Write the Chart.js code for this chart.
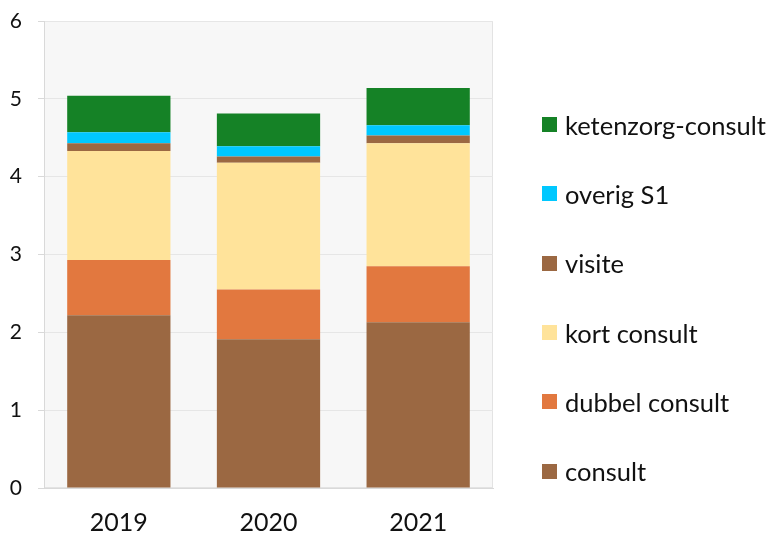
<!DOCTYPE html>
<html>
<head>
<meta charset="utf-8">
<script src="https://cdn.jsdelivr.net/npm/chart.js@4/dist/chart.umd.min.js"></script>
<style>
    html, body { margin: 0; padding: 0; background: #ffffff; }
    #wrap { position: relative; width: 772px; height: 533px; }
    #legend { position: absolute; left: 542px; top: 90px; font-family: Lato, 'Open Sans', sans-serif; font-size: 25.5px; color: #111; }
    .item { height: 69.3px; display: flex; align-items: center; white-space: nowrap; }
    .box { width: 15px; height: 15px; margin-right: 8px; }
</style>
</head>
<body>
<div id="wrap">
    <canvas id="chart" width="772" height="533"></canvas>
    <div id="legend"></div>
</div>
<script>
// Data
const years = ['2019', '2020', '2021'];
const seriesNames = ['consult', 'dubbel consult', 'kort consult', 'visite', 'overig S1', 'ketenzorg-consult'];
const consult = [2.22, 1.91, 2.13];
const dubbelConsult = [0.71, 0.64, 0.72];
const kortConsult = [1.40, 1.63, 1.58];
const visite = [0.10, 0.08, 0.10];
const overigS1 = [0.14, 0.13, 0.13];
const ketenzorgConsult = [0.47, 0.42, 0.48];
const yTicks = [0, 1, 2, 3, 4, 5, 6];

const seriesValues = [consult, dubbelConsult, kortConsult, visite, overigS1, ketenzorgConsult];
const colors = ['#9b6842', '#e2783f', '#ffe39a', '#9b6842', '#00c8ff', '#158226'];

// Plot area background + frame
const plotBackground = {
    id: 'plotBackground',
    beforeDraw(chart) {
        const { ctx, chartArea: a } = chart;
        ctx.save();
        ctx.fillStyle = '#f7f7f7';
        ctx.fillRect(a.left, a.top, a.right - a.left, a.bottom - a.top);
        ctx.strokeStyle = '#e3e3e3';
        ctx.lineWidth = 1;
        ctx.strokeRect(a.left + 0.5, a.top + 0.5, a.right - a.left - 1, a.bottom - a.top - 1);
        ctx.restore();
    }
};

const ctx = document.getElementById('chart').getContext('2d');
const chart = new Chart(ctx, {
    type: 'bar',
    data: {
        labels: years,
        datasets: seriesNames.map((name, i) => ({
            label: name,
            data: seriesValues[i],
            backgroundColor: colors[i],
            borderWidth: 0,
            categoryPercentage: 1,
            barPercentage: 0.69
        }))
    },
    options: {
        responsive: false,
        animation: false,
        layout: { padding: { left: 0, right: 279, top: 21, bottom: 0 } },
        plugins: {
            legend: { display: false },
            tooltip: { enabled: false }
        },
        scales: {
            x: {
                stacked: true,
                afterFit: (axis) => { axis.height = 45; axis.paddingLeft = 0; axis.paddingRight = 0; },
                grid: { display: false },
                border: { display: true, color: '#d9d9d9', width: 1 },
                ticks: {
                    color: '#111',
                    padding: 12,
                    font: { family: 'Lato, "Open Sans", sans-serif', size: 25 }
                }
            },
            y: {
                stacked: true,
                min: 0,
                max: 6,
                afterBuildTicks: (axis) => { axis.ticks = yTicks.map(v => ({ value: v })); },
                afterFit: (axis) => { axis.width = 44; axis.paddingTop = 0; axis.paddingBottom = 0; },
                grid: { color: '#e6e6e6', tickLength: 6, tickColor: '#d9d9d9' },
                border: { display: true, color: '#d9d9d9', width: 1 },
                ticks: {
                    color: '#111',
                    padding: 16,
                    font: { family: 'Lato, "Open Sans", sans-serif', size: 21 }
                }
            }
        }
    },
    plugins: [plotBackground]
});

// Legend, topmost stack series first
const legend = document.getElementById('legend');
seriesNames.slice().reverse().forEach((name, k) => {
    const i = seriesNames.length - 1 - k;
    const row = document.createElement('div');
    row.className = 'item';
    const box = document.createElement('span');
    box.className = 'box';
    box.style.background = colors[i];
    const txt = document.createElement('span');
    txt.textContent = name;
    row.appendChild(box);
    row.appendChild(txt);
    legend.appendChild(row);
});
</script>
</body>
</html>
